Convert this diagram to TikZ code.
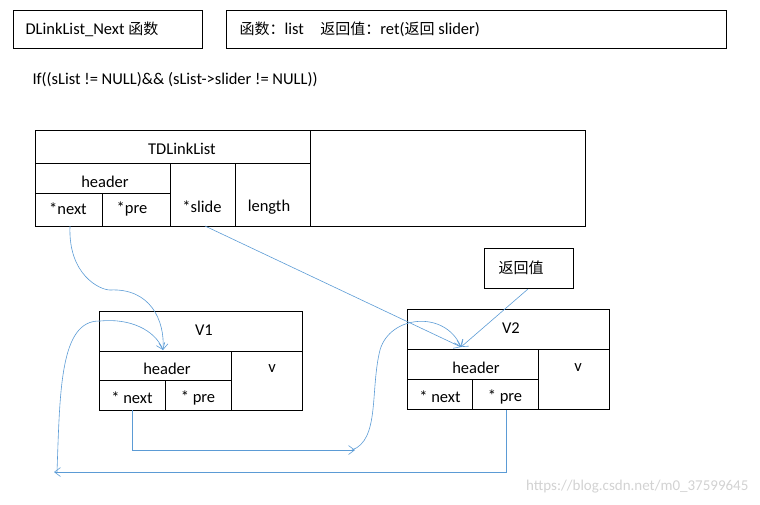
\documentclass[tikz,border=0pt]{standalone}
\usepackage{fontspec}
\setmainfont{Carlito}
\newfontfamily\cjk{Noto Sans CJK SC}
\usetikzlibrary{arrows.meta}
\begin{document}
\begin{tikzpicture}[x=1pt,y=-1pt,
  box/.style={draw=black,line width=0.8pt},
  lab/.style={font=\fontsize{16.5}{18}\selectfont},
  link/.style={draw={rgb,255:red,91;green,155;blue,213},line width=0.6pt,-{Straight Barb[length=6pt,width=9pt]}}]
\useasboundingbox (0,0) rectangle (760,504);
% header boxes
\draw[box] (13,10) rectangle (202,48);
\node[lab,anchor=west] (t1) at (22,29) {DLinkList\_Next {\cjk\fontsize{15}{17}\selectfont 函数}};
\draw[box] (226,10) rectangle (726,48);
\node[lab,anchor=west] (t2) at (236,29) {{\cjk\fontsize{15}{17}\selectfont 函数：}list\quad {\cjk\fontsize{15}{17}\selectfont 返回值：}ret({\cjk\fontsize{15}{17}\selectfont 返回} slider)};
\node[lab,anchor=west] (cond) at (29,80) {If((sList != NULL)\&\& (sList->slider != NULL))};
% TDLinkList
\draw[box] (35,130) rectangle (585,226);
\draw[box] (310,130) -- (310,226);
\draw[box] (35,163) -- (310,163);
\draw[box] (35,193) -- (170,193);
\draw[box] (102,193) -- (102,226);
\draw[box] (170,163) -- (170,226);
\draw[box] (235,163) -- (235,226);
\node[lab] (td) at (182,149) {TDLinkList};
\node[lab] (th) at (105,182) {header};
\node[lab] (tn) at (68,209) {*next};
\node[lab] (tp) at (132,209) {*pre};
\node[lab] (ts) at (202,207) {*slide};
\node[lab] (tl) at (269,207) {length};
% V1
\draw[box] (99,311) rectangle (302,410);
\draw[box] (99,351) -- (302,351);
\draw[box] (99,380) -- (231,380);
\draw[box] (231,351) -- (231,410);
\draw[box] (165,380) -- (165,410);
\node[lab] (v1) at (204,330) {V1};
\node[lab] (v1h) at (167,369) {header};
\node[lab] (v1n) at (132,398) {* next};
\node[lab] (v1p) at (198,398) {* pre};
\node[lab] (v1v) at (272,369) {v};
% V2
\draw[box] (407,309) rectangle (609,409);
\draw[box] (407,349) -- (609,349);
\draw[box] (407,379) -- (538,379);
\draw[box] (538,349) -- (538,409);
\draw[box] (472,379) -- (472,409);
\node[lab] (v2) at (511,328) {V2};
\node[lab] (v2h) at (476,368) {header};
\node[lab] (v2n) at (440,397) {* next};
\node[lab] (v2p) at (505,397) {* pre};
\node[lab] (v2v) at (578,368) {v};
% return value box
\draw[box] (484,248) rectangle (573,288);
\node[lab] (rv) at (521,268) {\cjk\fontsize{15}{17}\selectfont 返回值};
% anchors
\coordinate (a1) at (163,350);
\coordinate (a2) at (461,347);
\coordinate (e1) at (355,450);
\coordinate (e2) at (54,472);
% connectors
\draw[link] (70,226) .. controls (68,275) and (100,290) .. (110,290)
  .. controls (150,288) and (165,320) .. (a1);
\draw[link] (57,472) .. controls (60,390) and (60,320) .. (100,321)
  .. controls (130,318) and (155,330) .. (a1);
\draw[link] (205,226) -- (a2);
\draw[link] (528,289) -- (a2);
\draw[link] (352,450) .. controls (380,440) and (370,390) .. (380,350)
  .. controls (390,315) and (445,310) .. (a2);
\draw[link] (132,410) -- (132,450) -- (e1);
\draw[link] (506,410) -- (506,472) -- (e2);
\node[font=\fontsize{15}{17}\selectfont,text=gray!35,anchor=east] (wm) at (752,487) {https://blog.csdn.net/m0\_37599645};
\end{tikzpicture}
\end{document}
